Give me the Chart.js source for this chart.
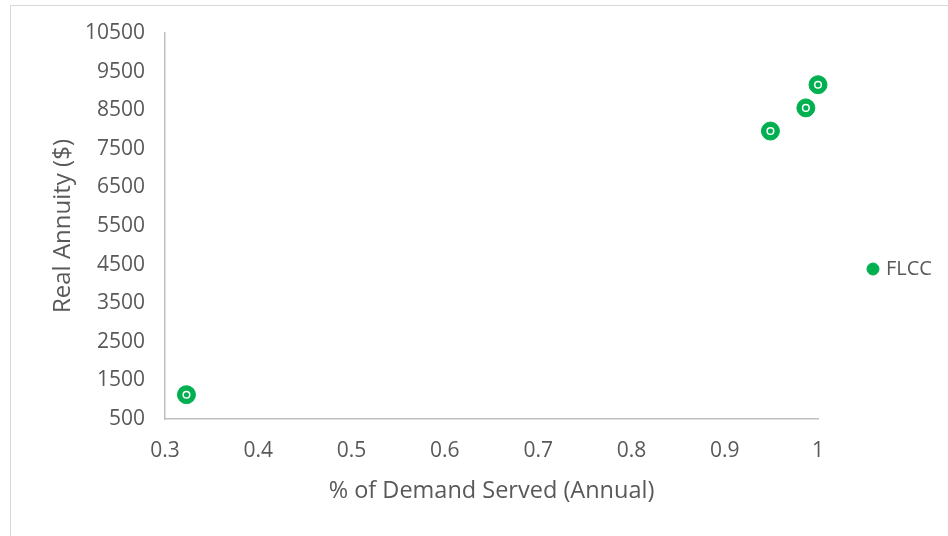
<!DOCTYPE html>
<html>
<head>
<meta charset="utf-8">
<script src="https://cdn.jsdelivr.net/npm/chart.js@4.4.1/dist/chart.umd.min.js"></script>
<style>
  html, body { margin: 0; padding: 0; background: #fff; }
  #frame { position: absolute; left: 10px; top: 5px; width: 1000px; height: 600px; border: 1px solid #d9d9d9; }
  #wrap { position: absolute; left: 0; top: 0; width: 948px; height: 536px; }
</style>
</head>
<body>
<div id="frame"></div>
<div id="wrap"><canvas id="chart" width="948" height="536"></canvas></div>
<script>
// data
const seriesName = "FLCC";
const demandServed = [0.323, 0.949, 0.987, 1.0];
const realAnnuity = [1130, 7960, 8560, 9160];
const xTickLabels = ["0.3", "0.4", "0.5", "0.6", "0.7", "0.8", "0.9", "1"];
const yTickLabels = ["500", "1500", "2500", "3500", "4500", "5500", "6500", "7500", "8500", "9500", "10500"];

const green = "#00b050";
const textColor = "#595959";
const fontFamily = "'Open Sans', sans-serif";

const points = demandServed.map((x, i) => ({ x: x, y: realAnnuity[i] }));

const ctx = document.getElementById("chart").getContext("2d");
new Chart(ctx, {
  type: "scatter",
  data: {
    datasets: [
      {
        label: seriesName,
        data: points,
        backgroundColor: green,
        borderColor: green,
        borderWidth: 1,
        pointRadius: 9,
        pointHoverRadius: 9,
        order: 2,
        clip: false
      },
      {
        label: "ring",
        data: points,
        backgroundColor: green,
        borderColor: "#ffffff",
        borderWidth: 1.5,
        pointRadius: 3.3,
        pointHoverRadius: 3.3,
        order: 1,
        clip: false
      }
    ]
  },
  options: {
    responsive: false,
    animation: false,
    events: [],
    layout: { padding: { left: 49, top: 33, bottom: 31, right: 10 } },
    plugins: {
      tooltip: { enabled: false },
      legend: {
        position: "right",
        maxWidth: 120,
        labels: {
          filter: item => item.datasetIndex === 0,
          usePointStyle: true,
          pointStyle: "circle",
          boxHeight: 8.5,
          boxWidth: 6,
          padding: 52,
          color: textColor,
          font: { family: fontFamily, size: 20 }
        }
      }
    },
    scales: {
      x: {
        type: "linear",
        min: 0.3,
        max: 1,
        grid: { display: false, drawTicks: false },
        border: { display: true, color: "#bfbfbf", width: 1.5 },
        ticks: {
          stepSize: 0.1,
          padding: 19,
          color: textColor,
          font: { family: fontFamily, size: 21 },
          callback: (v, i) => xTickLabels[i]
        },
        title: {
          display: true,
          text: "% of Demand Served (Annual)",
          color: textColor,
          padding: 0,
          font: { family: fontFamily, size: 23.5 }
        },
        afterFit: s => { s.height = 86; }
      },
      y: {
        type: "linear",
        min: 500,
        max: 10500,
        grid: { display: false, drawTicks: false },
        border: { display: true, color: "#bfbfbf", width: 1.5 },
        ticks: {
          stepSize: 1000,
          padding: 20,
          color: textColor,
          font: { family: fontFamily, size: 21 },
          callback: (v, i) => yTickLabels[i]
        },
        title: {
          display: true,
          text: "Real Annuity ($)",
          color: textColor,
          padding: 0,
          font: { family: fontFamily, size: 24 }
        },
        afterFit: s => { s.width = 116; }
      }
    }
  }
});
</script>
</body>
</html>
